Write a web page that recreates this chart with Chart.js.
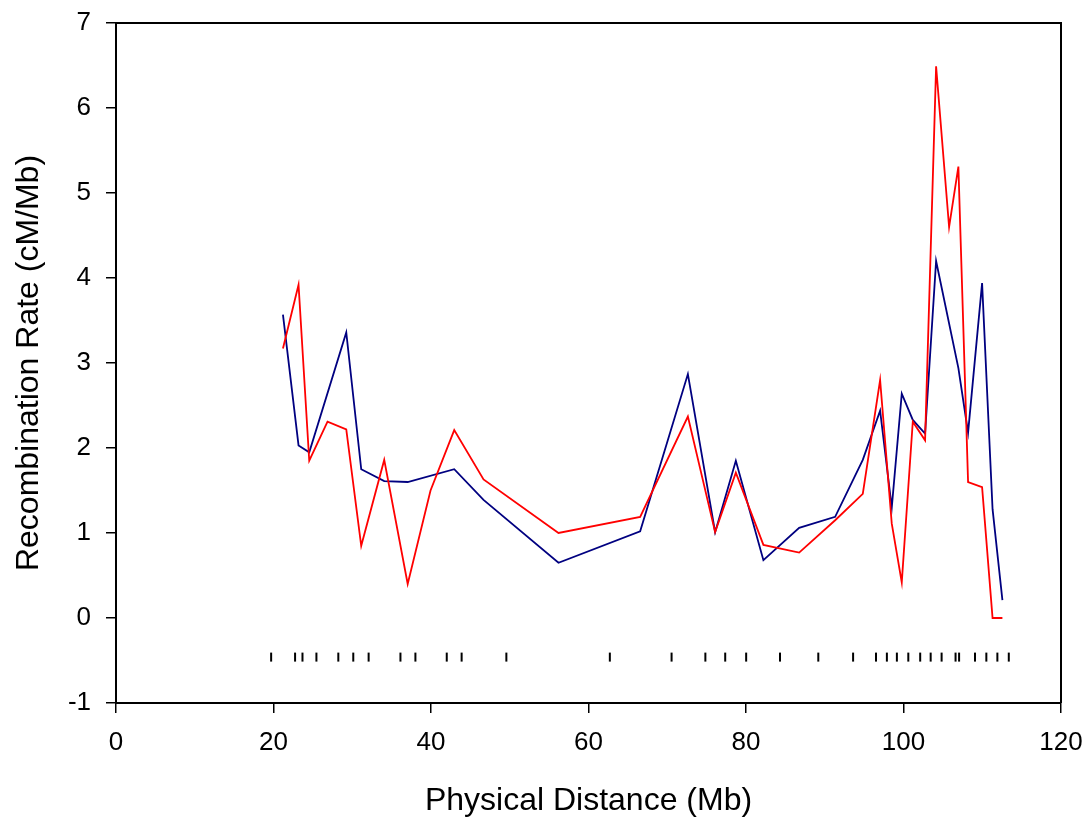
<!DOCTYPE html>
<html>
<head>
<meta charset="utf-8">
<script src="https://cdn.jsdelivr.net/npm/chart.js@4/dist/chart.umd.min.js"></script>
<style>
  html, body { margin: 0; padding: 0; background: #fff; }
  #wrap { width: 1091px; height: 822px; }
</style>
</head>
<body>
<div id="wrap"><canvas id="grafico"></canvas></div>
<script>
// valores
var azulX = [21.2, 23.18, 24.54, 29.24, 31.14, 34.06, 37.04, 42.95, 46.67, 56.19, 66.56, 72.62, 76.08, 78.71, 82.21, 86.75, 91.32, 94.83, 97.03, 98.51, 99.78, 101.18, 102.74, 104.14, 106.97, 108.2, 109.98, 111.31, 112.56];
var azulY = [3.57, 2.03, 1.95, 3.36, 1.75, 1.61, 1.60, 1.75, 1.39, 0.65, 1.02, 2.87, 1.01, 1.85, 0.68, 1.06, 1.19, 1.86, 2.44, 1.30, 2.64, 2.33, 2.17, 4.20, 2.94, 2.18, 3.94, 1.28, 0.21];

var vermelhoX = [21.2, 23.18, 24.54, 26.86, 29.24, 31.14, 34.06, 37.04, 39.94, 42.95, 46.67, 56.19, 66.56, 72.62, 76.08, 78.71, 82.21, 86.75, 91.32, 94.83, 97.03, 98.51, 99.78, 101.18, 102.74, 104.14, 105.79, 106.97, 108.2, 109.98, 111.31, 112.56];
var vermelhoY = [3.17, 3.92, 1.85, 2.31, 2.22, 0.85, 1.86, 0.40, 1.50, 2.21, 1.63, 1.00, 1.19, 2.37, 1.01, 1.71, 0.86, 0.77, 1.15, 1.46, 2.80, 1.11, 0.42, 2.31, 2.09, 6.49, 4.60, 5.31, 1.60, 1.54, 0.0, 0.0];

// posicoes dos marcadores
var marcadoresX = [19.70, 22.74, 23.68, 25.45, 28.23, 30.13, 32.08, 36.12, 38.02, 42.0, 43.89, 49.57, 62.71, 70.55, 74.84, 77.36, 80.02, 84.32, 89.18, 93.6, 96.51, 97.89, 99.16, 100.61, 102.12, 103.45, 104.84, 106.61, 107.06, 109.08, 110.52, 111.92, 113.37];
var marcadorY = -0.46;

var tituloX = "Physical Distance (Mb)";
var tituloY = "Recombination Rate (cM/Mb)";

function pares(xs, ys) {
	var saida = [];
	for (var i = 0; i < xs.length; i++) {
		saida.push({ x: xs[i], y: ys[i] });
	}
	return saida;
}

var fonte = "'Liberation Sans', Arial, sans-serif";

// moldura em cima e na direita
var moldura = {
	id: "moldura",
	afterDraw: function (chart) {
		var a = chart.chartArea;
		var ctx = chart.ctx;
		ctx.save();
		ctx.strokeStyle = "#000";
		ctx.lineWidth = 2;
		ctx.beginPath();
		ctx.moveTo(a.left, a.top);
		ctx.lineTo(a.right, a.top);
		ctx.lineTo(a.right, a.bottom);
		ctx.stroke();
		ctx.restore();
	}
};

new Chart(document.getElementById("grafico"), {
	type: "scatter",
	data: {
		datasets: [
			{
				data: pares(marcadoresX, marcadoresX.map(function () { return marcadorY; })),
				pointStyle: "line",
				rotation: 90,
				radius: 4.5,
				borderWidth: 2,
				borderColor: "#000",
				backgroundColor: "#000",
				showLine: false,
			},
			{
				data: pares(vermelhoX, vermelhoY),
				showLine: true,
				borderColor: "#ff0000",
				borderWidth: 1.8,
				pointRadius: 0,
				tension: 0,
			},
			{
				data: pares(azulX, azulY),
				showLine: true,
				borderColor: "#000080",
				borderWidth: 1.8,
				pointRadius: 0,
				tension: 0,
			},
		],
	},
	options: {
		responsive: true,
		maintainAspectRatio: false,
		animation: false,
		layout: { padding: { top: 23, right: 30, left: 0, bottom: 0 } },
		plugins: {
			legend: { display: false },
			tooltip: { enabled: false },
		},
		scales: {
			x: {
				type: "linear",
				min: 0,
				max: 120,
				afterFit: function (s) {
					s.height = 119;
					s.paddingLeft = 0;
					s.paddingRight = 0;
				},
				ticks: { stepSize: 20, color: "#000", padding: 14, font: { family: fonte, size: 26 } },
				grid: { drawOnChartArea: false, drawTicks: true, tickLength: 10, color: "#000", lineWidth: 1.5 },
				border: { color: "#000", width: 2 },
				title: { display: true, text: tituloX, color: "#000", font: { family: fonte, size: 32 }, padding: { top: 0, bottom: 2 } },
			},
			y: {
				min: -1,
				max: 7,
				afterFit: function (s) {
					s.width = 116;
					s.paddingTop = 0;
					s.paddingBottom = 0;
				},
				ticks: { stepSize: 1, color: "#000", padding: 15, font: { family: fonte, size: 26 } },
				grid: { drawOnChartArea: false, drawTicks: true, tickLength: 10, color: "#000", lineWidth: 1.5 },
				border: { color: "#000", width: 2 },
				title: { display: true, text: tituloY, color: "#000", font: { family: fonte, size: 32 }, padding: { top: 10, bottom: 0 } },
			},
		},
	},
	plugins: [moldura],
});
</script>
</body>
</html>
